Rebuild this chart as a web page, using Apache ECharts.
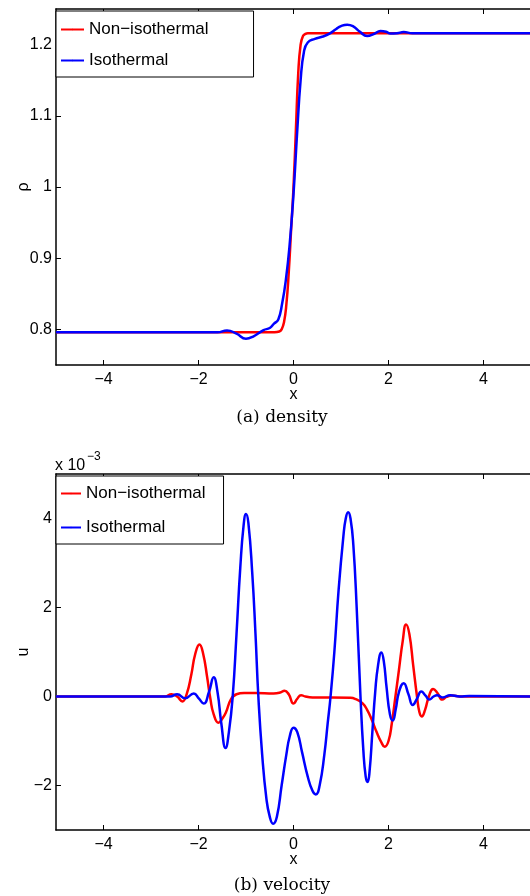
<!DOCTYPE html>
<html><head><meta charset="utf-8">
<script src="https://cdn.jsdelivr.net/npm/echarts@6/dist/echarts.min.js"></script>
<style>html,body{margin:0;padding:0;background:#fff}#c{width:530px;height:896px}</style>
</head><body><div id="c"></div>
<script>
// ---- tick labels / categories ----
const xTicks = [-4, -2, 0, 2, 4];
const rhoTicks = [0.8, 0.9, 1, 1.1, 1.2];
const uTicks = [-2, 0, 2, 4];
const seriesNames = ['Non\u2212isothermal', 'Isothermal'];

// ---- (a) density ----
const rhoNonIsoX = [-5, -2, -0.4, -0.3, -0.25, -0.2, -0.15, -0.1, -0.05, 0, 0.05, 0.1, 0.15, 0.2, 0.25, 0.3, 0.5, 2, 5];
const rhoNonIso  = [0.796, 0.796, 0.796, 0.797, 0.8, 0.81, 0.835, 0.88, 0.94, 1.0, 1.08, 1.16, 1.2, 1.212, 1.215, 1.216, 1.216, 1.216, 1.216];
const rhoIsoX = [-5, -2, -1.6, -1.4, -1.2, -1.0, -0.85, -0.63, -0.5, -0.41, -0.32, -0.24, -0.16, -0.08, 0, 0.08, 0.15, 0.22, 0.3, 0.45, 0.6, 0.75, 0.9, 1.0, 1.13, 1.25, 1.4, 1.55, 1.7, 1.83, 1.95, 2.04, 2.18, 2.32, 2.5, 2.7, 5];
const rhoIso  = [0.796, 0.796, 0.796, 0.7986, 0.794, 0.787, 0.790, 0.799, 0.802, 0.808, 0.814, 0.836, 0.87, 0.92, 0.99, 1.08, 1.15, 1.19, 1.203, 1.208, 1.211, 1.215, 1.222, 1.226, 1.228, 1.226, 1.218, 1.212, 1.215, 1.219, 1.218, 1.2156, 1.216, 1.2176, 1.216, 1.216, 1.216];

// ---- (b) velocity (x 10^-3) ----
const uNonIsoX = [-5, -2.7, -2.57, -2.45, -2.34, -2.25, -2.15, -2.07, -1.98, -1.9, -1.82, -1.75, -1.68, -1.58, -1.5, -1.42, -1.32, -1.2, -1.04, -0.8, -0.42, -0.28, -0.19, -0.1, 0.0, 0.08, 0.16, 0.25, 0.4, 1.2, 1.31, 1.45, 1.55, 1.65, 1.75, 1.85, 1.92, 2.0, 2.07, 2.14, 2.22, 2.3, 2.37, 2.44, 2.52, 2.6, 2.65, 2.7, 2.77, 2.85, 2.94, 3.03, 3.13, 3.22, 3.34, 3.5, 5];
const uNonIso  = [0, 0, 0.05, 0.0, -0.11, 0.05, 0.5, 0.95, 1.17, 0.95, 0.45, -0.05, -0.4, -0.59, -0.5, -0.35, -0.07, 0.05, 0.08, 0.08, 0.07, 0.09, 0.13, 0.05, -0.16, -0.05, 0.03, 0.0, -0.02, -0.03, -0.06, -0.15, -0.3, -0.53, -0.8, -1.03, -1.13, -1.0, -0.6, -0.05, 0.6, 1.25, 1.62, 1.4, 0.7, 0.0, -0.35, -0.45, -0.3, 0.0, 0.17, 0.08, -0.07, -0.01, 0.02, 0, 0];
const uIsoX = [-5, -2.6, -2.45, -2.28, -2.1, -1.99, -1.89, -1.78, -1.68, -1.6, -1.52, -1.43, -1.36, -1.28, -1.2, -1.12, -1.05, -1.0, -0.95, -0.87, -0.8, -0.74, -0.66, -0.57, -0.5, -0.43, -0.35, -0.25, -0.15, -0.08, 0.0, 0.08, 0.18, 0.3, 0.4, 0.47, 0.55, 0.65, 0.72, 0.78, 0.86, 0.95, 1.05, 1.1, 1.15, 1.2, 1.26, 1.33, 1.41, 1.47, 1.52, 1.56, 1.6, 1.66, 1.72, 1.78, 1.85, 1.9, 1.96, 2.03, 2.09, 2.15, 2.22, 2.32, 2.42, 2.51, 2.6, 2.69, 2.78, 2.86, 2.95, 3.02, 3.14, 3.3, 3.5, 3.7, 5];
const uIso  = [0, 0, 0.05, -0.04, 0.07, -0.05, -0.16, 0.1, 0.43, 0.1, -0.6, -1.16, -0.8, 0, 1.4, 2.9, 3.85, 4.1, 3.9, 2.8, 1.4, 0, -1.3, -2.3, -2.7, -2.86, -2.7, -2.0, -1.3, -0.9, -0.7, -0.8, -1.25, -1.8, -2.12, -2.2, -2.0, -1.3, -0.6, 0, 1.0, 2.4, 3.6, 4.0, 4.14, 4.0, 3.4, 2.0, 0, -1.2, -1.8, -1.92, -1.7, -0.8, 0.1, 0.7, 0.99, 0.8, 0.2, -0.4, -0.54, -0.3, 0.1, 0.3, 0.05, -0.19, -0.05, 0.11, 0.02, -0.07, 0.0, 0.03, -0.02, 0.03, 0.0, 0.01, 0];

const FONT = 'Liberation Sans, Arial, sans-serif';
const SERIF = 'DejaVu Serif, Liberation Serif, serif';
const pairs = (xs, ys) => xs.map((x, i) => [x, ys[i]]);
const minus = v => String(v).replace('-', '\u2212');

function xAxisB(gi) {
  return {
    type: 'value', gridIndex: gi, min: -5, max: 5, position: 'bottom',
    name: 'x', nameLocation: 'middle', nameGap: 22, nameMoveOverlap: false,
    nameTextStyle: { fontSize: 16, color: '#000', fontFamily: FONT },
    axisLine: { show: true, onZero: false, lineStyle: { color: '#000', width: 1.5 } },
    axisTick: { show: true, inside: true, length: 5, customValues: xTicks, lineStyle: { color: '#000', width: 1 } },
    axisLabel: { customValues: xTicks, formatter: minus, fontSize: 16, color: '#000', margin: 7, fontFamily: FONT },
    splitLine: { show: false }
  };
}
function xAxisT(gi) {
  return {
    type: 'value', gridIndex: gi, min: -5, max: 5, position: 'top',
    axisLine: { show: true, onZero: false, lineStyle: { color: '#000', width: 1.5 } },
    axisTick: { show: true, inside: true, length: 5, customValues: xTicks, lineStyle: { color: '#000', width: 1 } },
    axisLabel: { show: false }, splitLine: { show: false }
  };
}
function yAxis(gi, min, max, ticks, name) {
  return {
    type: 'value', gridIndex: gi, min: min, max: max,
    name: name, nameLocation: 'middle', nameGap: 24, nameMoveOverlap: false,
    nameTextStyle: { fontSize: 16, color: '#000', fontFamily: FONT },
    axisLine: { show: true, onZero: false, lineStyle: { color: '#000', width: 1.5 } },
    axisTick: { show: true, inside: true, length: 5, customValues: ticks, lineStyle: { color: '#000', width: 1 } },
    axisLabel: { customValues: ticks, formatter: minus, fontSize: 16, color: '#000', margin: 4, fontFamily: FONT },
    splitLine: { show: false }
  };
}
function line(name, xi, yi, data, color) {
  return {
    type: 'line', name: name, xAxisIndex: xi, yAxisIndex: yi, data: data,
    symbol: 'none', showSymbol: false, smooth: 0.5, clip: true,
    lineStyle: { color: color, width: 2.5 }, itemStyle: { color: color }
  };
}
function legend(top, padding, gap, iw) {
  return {
    data: seriesNames, orient: 'vertical', left: 56, top: top,
    backgroundColor: '#fff', borderColor: '#000', borderWidth: 1, borderRadius: 0,
    padding: padding, itemGap: gap, itemWidth: iw, itemHeight: 2,
    textStyle: { fontSize: 17, color: '#000', fontFamily: FONT, lineHeight: 17 },
    selectedMode: false
  };
}

const chart = echarts.init(document.getElementById('c'), null, { renderer: 'canvas' });
chart.setOption({
  animation: false,
  backgroundColor: '#fff',
  grid: [
    { left: 56, top: 9, width: 475, height: 356, outerBoundsMode: 'none', containLabel: false },
    { left: 56, top: 474, width: 475, height: 356, outerBoundsMode: 'none', containLabel: false }
  ],
  xAxis: [xAxisB(0), xAxisT(0), xAxisB(1), xAxisT(1)],
  yAxis: [yAxis(0, 0.75, 1.25, rhoTicks, '\u03c1'), yAxis(1, -3, 5, uTicks, 'u')],
  legend: [
    legend(11, [10, 45, 8, 4], 14, 23),
    legend(476, [9, 18, 8, 4], 17, 20)
  ],
  series: [
    line(seriesNames[0], 0, 0, pairs(rhoNonIsoX, rhoNonIso), '#ff0000'),
    line(seriesNames[1], 0, 0, pairs(rhoIsoX, rhoIso), '#0000ff'),
    line(seriesNames[0], 2, 1, pairs(uNonIsoX, uNonIso), '#ff0000'),
    line(seriesNames[1], 2, 1, pairs(uIsoX, uIso), '#0000ff')
  ],
  graphic: [
    { type: 'text', x: 282, y: 418, style: { text: '(a) density', font: '17px ' + SERIF, fill: '#000', align: 'center', verticalAlign: 'middle' } },
    { type: 'text', x: 282, y: 886, style: { text: '(b) velocity', font: '17px ' + SERIF, fill: '#000', align: 'center', verticalAlign: 'middle' } },
    { type: 'text', x: 55, y: 466, style: { text: 'x 10', font: '16px ' + FONT, fill: '#000', align: 'left', verticalAlign: 'middle' } },
    { type: 'text', x: 87, y: 457, style: { text: '\u22123', font: '12px ' + FONT, fill: '#000', align: 'left', verticalAlign: 'middle' } }
  ]
});
</script></body></html>
